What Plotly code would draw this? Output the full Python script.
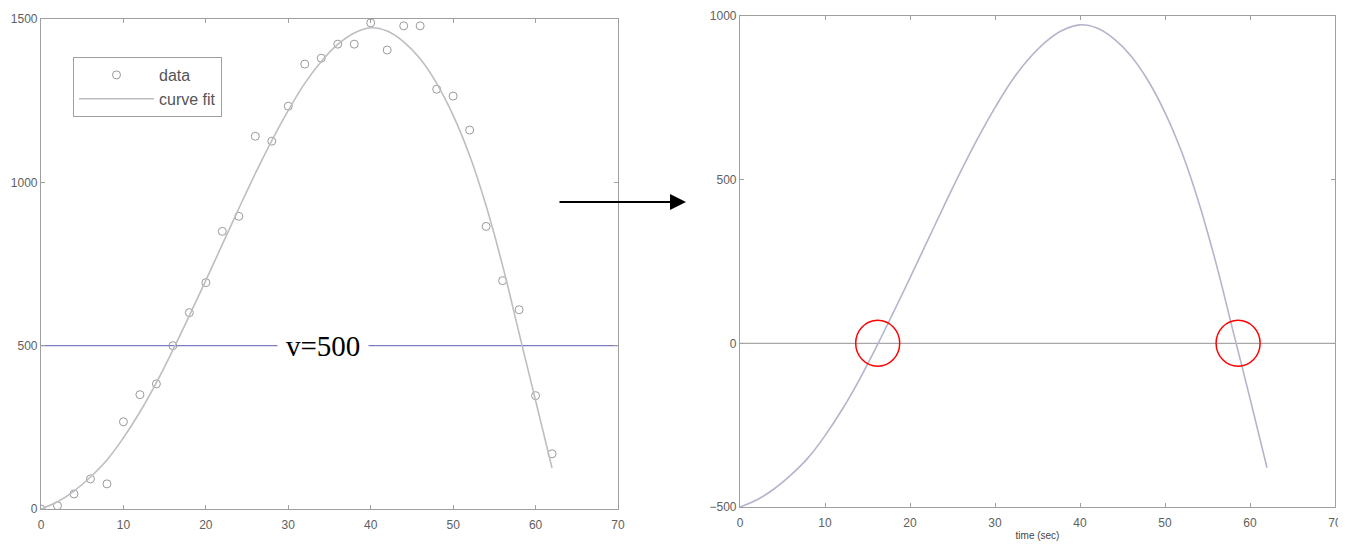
import plotly.graph_objects as go

# data points (left panel)
t_data = [0, 2, 4, 6, 8, 10, 12, 14, 16, 18, 20, 22, 24, 26, 28, 30,
          32, 34, 36, 38, 40, 42, 44, 46, 48, 50, 52, 54, 56, 58, 60, 62]
v_data = [0, 10, 46, 92, 77, 267, 350, 383, 500, 601, 693, 850, 896, 1141, 1126, 1233,
          1362, 1380, 1423, 1423, 1488, 1405, 1479, 1479, 1285, 1264, 1160, 865, 699, 610, 347, 169]

# curve fit
t_fit = [0, 2, 4, 6, 8, 10, 12, 14, 16, 18, 20, 22, 24, 26, 28, 30,
         32, 34, 36, 38, 40, 42, 44, 46, 48, 50, 52, 54, 56, 58, 60, 62]
v_fit = [0, 22, 55, 98, 150, 218, 297, 387, 487, 592, 700, 810, 920, 1027, 1128, 1220,
         1303, 1370, 1422, 1457, 1473, 1463, 1430, 1378, 1303, 1205, 1082, 928, 745, 538, 332, 125]

# shifted curve (right panel)
v_shift = [-500, -478, -445, -402, -350, -282, -203, -113, -13, 92, 200, 310, 420, 527, 628, 720,
           803, 870, 922, 957, 973, 963, 930, 878, 803, 705, 582, 428, 245, 38, -168, -380]

level_x = [0, 70]
level_left = [500, 500]
level_right = [0, 0]

x_ticks = [0, 10, 20, 30, 40, 50, 60, 70]
left_yticks = [0, 500, 1000, 1500]
right_yticks = [-500, 0, 500, 1000]

# the page body adds an 8px margin, so the figure is 8px smaller and
# positions below are measured from the window corner minus 8
OFF = 8
W, H = 1346 - OFF, 546 - OFF
def px(v):
    return (v - OFF) / W
def py(v):
    return 1 - (v - OFF) / H

tickfont = dict(family="Liberation Sans, Arial", size=12, color="#606060")

fig = go.Figure()

fig.add_trace(go.Scatter(x=level_x, y=level_left, mode="lines",
                         line=dict(color="#7c7cc4", width=1.3), showlegend=False,
                         xaxis="x", yaxis="y"))
fig.add_trace(go.Scatter(x=t_data, y=v_data, mode="markers", name="data",
                         marker=dict(symbol="circle-open", size=8, color="#9a9a9a",
                                     line=dict(width=1)),
                         xaxis="x", yaxis="y"))
fig.add_trace(go.Scatter(x=t_fit, y=v_fit, mode="lines", name="curve fit",
                         line=dict(color="#bdbdc4", width=1.6, shape="spline", smoothing=1.2),
                         xaxis="x", yaxis="y"))

fig.add_trace(go.Scatter(x=level_x, y=level_right, mode="lines",
                         line=dict(color="#a8a8a8", width=1.4), showlegend=False,
                         xaxis="x2", yaxis="y2"))
fig.add_trace(go.Scatter(x=t_fit, y=v_shift, mode="lines",
                         line=dict(color="#b4b4cc", width=1.6, shape="spline", smoothing=1.2),
                         showlegend=False, xaxis="x2", yaxis="y2"))

ax_common = dict(showline=True, linecolor="#a0a0a0", linewidth=1.2, mirror="ticks",
                 ticks="inside", ticklen=4, tickcolor="#a0a0a0", showgrid=False,
                 zeroline=False, tickfont=tickfont, automargin=False)

fig.update_layout(
    width=W, height=H,
    margin=dict(l=0, r=0, t=0, b=0),
    paper_bgcolor="white", plot_bgcolor="white",
    xaxis=dict(domain=[px(41), px(618)], range=[0, 70], tickvals=x_ticks,
               anchor="y", ticklabelstandoff=4, **ax_common),
    yaxis=dict(domain=[py(509), py(19)], range=[0, 1500], tickvals=left_yticks,
               anchor="x", **ax_common),
    xaxis2=dict(domain=[px(740), px(1335)], range=[0, 70], tickvals=x_ticks,
                anchor="y2", ticklabelstandoff=4,
                title=dict(text="time (sec)", standoff=3,
                           font=dict(family="Liberation Sans, Arial", size=10, color="#444")),
                **ax_common),
    yaxis2=dict(domain=[py(507), py(16)], range=[-500, 1000], tickvals=right_yticks,
                anchor="x2", **ax_common),
    legend=dict(x=px(73), y=py(57), xanchor="left", yanchor="top",
                bgcolor="white", bordercolor="#a0a0a0", borderwidth=1,
                font=dict(family="Liberation Sans, Arial", size=16, color="#555"),
                itemwidth=75, tracegroupgap=0),
    showlegend=True,
)

# v=500 label on the level line
fig.add_annotation(x=34.6, y=500, xref="x", yref="y", text="v=500", showarrow=False,
                   xshift=-3,
                   font=dict(family="Liberation Serif, Times New Roman", size=29, color="black"),
                   bgcolor="white", borderpad=8)

# arrow between panels
fig.add_annotation(x=px(686), y=py(202), xref="paper", yref="paper",
                   ax=-128, ay=0, axref="pixel", ayref="pixel", text="",
                   showarrow=True, arrowhead=2, arrowsize=1.6, arrowwidth=2, arrowcolor="black")

# red circles at the zero crossings
for xc in [16.2, 58.6]:
    fig.add_shape(type="circle", xref="x2", yref="y2", xsizemode="pixel", ysizemode="pixel",
                  xanchor=xc, yanchor=0, x0=-22, x1=22, y0=-23, y1=23,
                  line=dict(color="red", width=1.5))

fig.write_html("out.html")
